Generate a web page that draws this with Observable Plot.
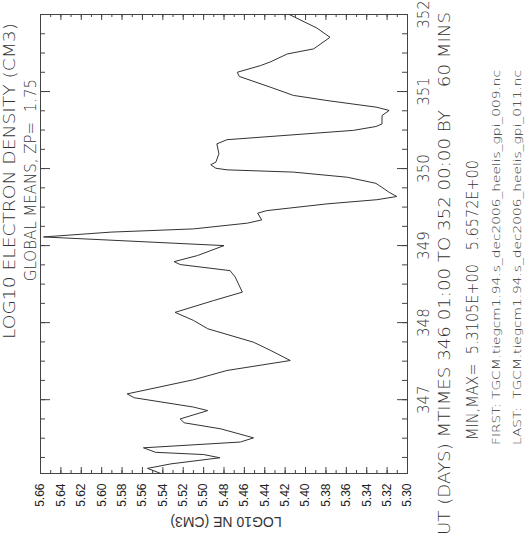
<!DOCTYPE html>
<html><head><meta charset="utf-8">
<script src="https://cdn.jsdelivr.net/npm/d3@7"></script>
<script src="https://cdn.jsdelivr.net/npm/@observablehq/plot@0.6"></script>
<style>body{margin:0;background:#fff}</style>
</head><body><div id="chart"></div>
<script>
// hours after day 346 01:00 UT
const hoursAfterStart = [0.0,1.6,3.0,4.9,5.9,6.6,8.0,9.8,11.1,13.9,15.8,17.0,19.6,20.7,23.6,24.8,29.2,32.1,35.2,38.3,40.9,45.1,47.7,50.2,53.9,56.5,61.2,63.2,65.1,66.0,67.9,71.0,73.7,75.2,76.2,78.0,79.0,81.1,81.9,84.0,85.3,86.3,87.6,88.7,90.4,92.3,93.9,94.6,95.1,96.2,97.0,99.6,102.7,104.0,106.9,108.1,108.9,111.5,113.1,114.1,116.2,117.8,120.3,123.7,125.0,127.1,128.3,130.7,132.3,135.9,138.8,143.0];
const log10Ne = [5.542,5.555,5.532,5.484,5.500,5.547,5.559,5.464,5.451,5.483,5.519,5.523,5.496,5.510,5.568,5.575,5.510,5.477,5.415,5.434,5.451,5.496,5.510,5.528,5.490,5.462,5.469,5.474,5.523,5.529,5.506,5.480,5.657,5.591,5.510,5.457,5.443,5.447,5.438,5.379,5.330,5.3105,5.318,5.323,5.331,5.359,5.412,5.477,5.488,5.493,5.488,5.485,5.487,5.477,5.353,5.331,5.325,5.325,5.318,5.330,5.379,5.412,5.434,5.465,5.467,5.444,5.434,5.418,5.392,5.376,5.389,5.416];
const dayLabels = [347,348,349,350,351,352];
const valueLabels = [5.66,5.64,5.62,5.60,5.58,5.56,5.54,5.52,5.50,5.48,5.46,5.44,5.42,5.40,5.38,5.36,5.34,5.32,5.30];
const titleLine1 = "LOG10 ELECTRON DENSITY (CM3)";
const titleLine2 = "GLOBAL MEANS, ZP=  1.75";
const timeLine = "UT (DAYS) MTIMES 346 01:00 TO 352 00:00 BY    60 MINS";
const minMaxLine = "MIN,MAX=  5.3105E+00   5.6572E+00";
const firstLine = "FIRST: TGCM.tiegcm1.94.s_dec2006_heelis_gpi_009.nc";
const lastLine = "LAST:  TGCM.tiegcm1.94.s_dec2006_heelis_gpi_011.nc";
const valueAxisTitle = "LOG10 NE (CM3)";

const data = hoursAfterStart.map((h, i) => ({day: 346 + (1 + h) / 24, ne: log10Ne[i]}));
const valueTicksMinor = d3.range(0, 37).map(i => +(5.30 + i * 0.01).toFixed(2));
const dayTicksMinor = d3.range(1, 25).map(i => 346 + i * 0.25);

const W = 526, H = 542, mL = 40, mR = 119, mT = 14, mB = 69;
const frameW = W - mL - mR, frameH = H - mT - mB;
const ink = "#444";
const thin = "DejaVu Sans";
const axisFont = "Liberation Sans, Arial, sans-serif";

// inward ticks of a given pixel length on each side of the frame
const ticksBottom = (t, len) => Plot.tickX(t, {x: d => d, insetTop: frameH - len, stroke: ink});
const ticksTop = (t, len) => Plot.tickX(t, {x: d => d, insetBottom: frameH - len, stroke: ink});
const ticksLeft = (t, len) => Plot.tickY(t, {y: d => d, insetRight: frameW - len, stroke: ink});
const ticksRight = (t, len) => Plot.tickY(t, {y: d => d, insetLeft: frameW - len, stroke: ink});

const svg = Plot.plot({
  width: W, height: H,
  marginLeft: mL, marginRight: mR, marginTop: mT, marginBottom: mB,
  x: {domain: [5.66, 5.30], label: null, axis: null},
  y: {domain: [346 + 1/24, 352], label: null, axis: null},
  style: {background: "#fff"},
  marks: [
    ticksBottom(valueTicksMinor, 3), ticksBottom(valueLabels, 6),
    ticksTop(valueTicksMinor, 3), ticksTop(valueLabels, 6),
    ticksLeft(dayTicksMinor, 5), ticksLeft(dayLabels, 10),
    ticksRight(dayTicksMinor, 5), ticksRight(dayLabels, 10),
    Plot.frame({stroke: ink}),
    Plot.line(data, {x: "ne", y: "day", stroke: "#333", strokeWidth: 1}),
    Plot.text(valueLabels, {x: d => d, text: d => d.toFixed(2), frameAnchor: "bottom", dy: 10,
      rotate: -90, textAnchor: "end", lineAnchor: "middle", fontSize: 12, fontFamily: axisFont, fill: "#222"}),
    Plot.text(dayLabels, {y: d => d, text: d => String(d), frameAnchor: "right", dx: 17,
      rotate: -90, textAnchor: "middle", lineAnchor: "middle", fontSize: 15, fontFamily: thin, fontWeight: 200, fill: "#333"})
  ]
});

const g = d3.select(svg).append("g").attr("fill", "#333");
function label(txt, x, y, rot, opts) {
  const t = g.append("text").text(txt)
    .attr("transform", `translate(${x},${y}) rotate(${rot})`)
    .attr("text-anchor", opts.anchor || "middle")
    .attr("dominant-baseline", "central")
    .attr("font-family", opts.family || thin)
    .attr("font-weight", opts.weight || 200)
    .attr("font-size", opts.size);
  if (opts.len) t.attr("textLength", opts.len).attr("lengthAdjust", "spacingAndGlyphs");
  return t;
}
label(titleLine1, 10, 181, -90, {size: 15, len: 316});
label(titleLine2, 31, 180, -90, {size: 15});
label(timeLine, 445, 535, -90, {size: 15, anchor: "start", len: 523});
label(minMaxLine, 473, 440, -90, {size: 15, anchor: "start", len: 280});
label(firstLine, 496, 445, -90, {size: 11, anchor: "start", len: 375});
label(lastLine, 517, 445, -90, {size: 11, anchor: "start", len: 375});
label(valueAxisTitle, 226, 522, 180, {size: 14, family: axisFont, weight: 400});

document.getElementById("chart").appendChild(svg);
</script>
</body></html>
